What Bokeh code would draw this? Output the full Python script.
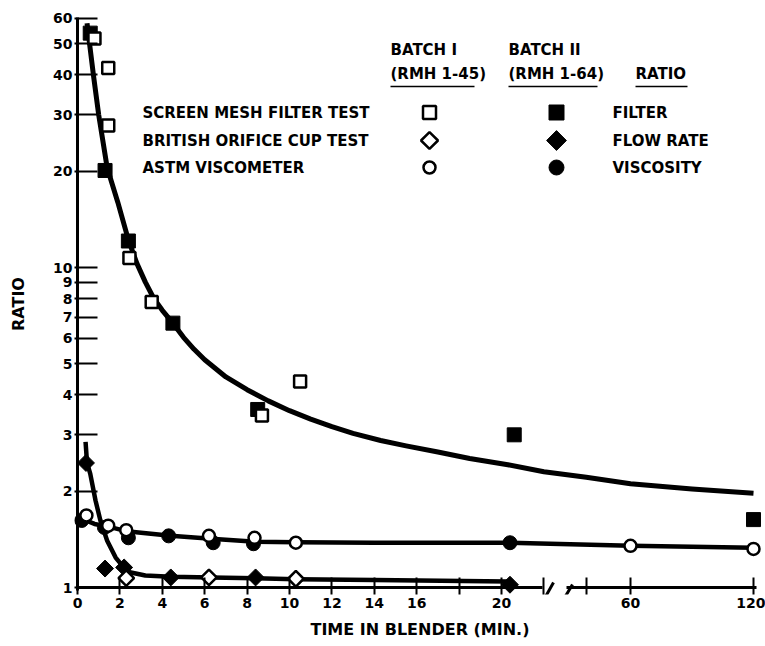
import math
from bokeh.plotting import figure
from bokeh.models import Range1d, FixedTicker, Label, Arrow
from bokeh.embed import file_html
from bokeh.resources import INLINE

# ---------------- data ----------------
# Screen mesh filter test (filter ratio)
filter_b1_t = [0.8, 1.45, 1.45, 2.45, 3.5, 8.7, 10.5]
filter_b1_v = [52, 42, 27.8, 10.7, 7.8, 3.45, 4.4]
filter_b2_t = [0.6, 1.3, 2.4, 4.5, 8.5, 20.6, 120]
filter_b2_v = [54, 20.1, 12.1, 6.7, 3.6, 3.0, 1.63]
filter_curve_t = [0.45, 0.75, 1.0, 1.4, 1.9, 2.4, 2.8, 3.2, 3.6, 4.0, 4.5,
                  5.0, 5.5, 6.0, 7.0, 8.0, 9.0, 10, 11, 12, 13, 14.3, 15.5,
                  17, 18.5, 20.3, 22, 24, 60, 90, 120]
filter_curve_v = [58, 40, 30, 20.5, 16.0, 12.2, 10.3, 9.0, 8.0, 7.35, 6.7,
                  6.05, 5.55, 5.15, 4.55, 4.15, 3.83, 3.57, 3.36, 3.18, 3.03,
                  2.88, 2.77, 2.65, 2.53, 2.42, 2.3, 2.21, 2.11, 2.03, 1.97]

# British orifice cup test (flow rate ratio)
flow_b1_t = [2.3, 6.2, 10.3]
flow_b1_v = [1.07, 1.075, 1.065]
flow_b2_t = [0.4, 1.3, 2.2, 4.4, 8.4, 20.4]
flow_b2_v = [2.45, 1.146, 1.155, 1.075, 1.075, 1.02]
flow_curve_t = [0.38, 0.45, 0.6, 0.85, 1.08, 1.4, 1.8, 2.35, 3.2, 4.4, 6.3,
                8.4, 10.3, 14, 20.3]
flow_curve_v = [2.85, 2.45, 2.27, 1.87, 1.62, 1.4, 1.24, 1.12, 1.09, 1.08,
                1.075, 1.068, 1.062, 1.055, 1.045]

# ASTM viscometer (viscosity ratio)
visc_b1_t = [0.42, 1.45, 2.3, 6.2, 8.35, 10.3, 60, 120]
visc_b1_v = [1.68, 1.56, 1.51, 1.45, 1.43, 1.38, 1.35, 1.32]
visc_b2_t = [0.2, 1.27, 2.4, 4.3, 6.4, 8.3, 20.4]
visc_b2_v = [1.62, 1.54, 1.43, 1.45, 1.38, 1.37, 1.38]
visc_curve_t = [0.2, 0.8, 1.45, 2.3, 4.4, 6.3, 8.4, 10.3, 14, 20.4, 60, 120]
visc_curve_v = [1.64, 1.58, 1.55, 1.5, 1.45, 1.42, 1.39, 1.385, 1.38, 1.38,
                1.35, 1.33]

x_tick_times = [0, 2, 4, 6, 8, 10, 12, 14, 16, 18, 20, 22, 24, 60, 120]
x_tick_labels = ["0", "2", "4", "6", "8", "10", "12", "14", "16", "", "20",
                 "", "", "60", "120"]
y_tick_values = [1, 2, 3, 4, 5, 6, 7, 8, 9, 10, 20, 30, 40, 50, 60]

row_names = ["SCREEN MESH FILTER TEST", "BRITISH ORIFICE CUP TEST",
             "ASTM VISCOMETER"]
ratio_names = ["FILTER", "FLOW RATE", "VISCOSITY"]

# ---------------- broken time axis ----------------
X0, PXU = 77.0, 21.2          # px of t=0, px per minute


def ux(px):
    return (px - X0) / PXU


def vy(py):
    return 10 ** ((587 - py) / 320.0)


U60, U120 = ux(630), ux(753)


def tmap(t):
    if t <= 24:
        return t
    if t < 60:
        return 24 + (t - 24) * (U60 - 24) / 36.0
    return U60 + (t - 60) * (U120 - U60) / 60.0


def tm(ts):
    return [tmap(t) for t in ts]


FONT = "DejaVu Sans"
W, H = 765, 646
FL, FT, FB = 74, 13, 594        # frame left / top / bottom px

p = figure(width=W, height=H, y_axis_type="log",
           x_range=Range1d(ux(FL), ux(W)),
           y_range=Range1d(vy(FB), vy(FT)),
           output_backend="svg", toolbar_location=None,
           min_border_left=FL, min_border_right=0,
           min_border_top=FT, min_border_bottom=H - FB)
p.grid.visible = False
p.outline_line_color = None
p.background_fill_color = "white"

# x axis
xa = p.xaxis[0]
xt = tm(x_tick_times)
xa.ticker = FixedTicker(ticks=xt)
xa.major_label_overrides = {v: s for v, s in zip(xt, x_tick_labels)}
xa.axis_line_alpha = 0
xa.major_tick_in = 17
xa.major_tick_out = 0
xa.major_tick_line_width = 2
xa.major_tick_line_color = "black"
xa.minor_tick_line_color = None
xa.major_label_standoff = 3
xa.major_label_text_font = FONT
xa.major_label_text_font_style = "bold"
xa.major_label_text_font_size = "14px"
xa.major_label_text_color = "black"
xa.axis_label = "TIME IN BLENDER (MIN.)"
xa.axis_label_standoff = 9
xa.axis_label_text_font = FONT
xa.axis_label_text_font_style = "bold"
xa.axis_label_text_font_size = "16px"
xa.axis_label_text_color = "black"

# y axis
ya = p.yaxis[0]
ya.ticker = FixedTicker(ticks=y_tick_values)
ya.major_label_overrides = {v: str(v) for v in y_tick_values}
ya.axis_line_alpha = 0
ya.major_tick_in = 23
ya.major_tick_out = 0
ya.major_tick_line_width = 2
ya.major_tick_line_color = "black"
ya.minor_tick_line_color = None
ya.major_label_standoff = 2
ya.major_label_text_font = FONT
ya.major_label_text_font_style = "bold"
ya.major_label_text_font_size = "14px"
ya.major_label_text_color = "black"
ya.axis_label = "RATIO"
ya.axis_label_standoff = 22
ya.axis_label_text_font = FONT
ya.axis_label_text_font_style = "bold"
ya.axis_label_text_font_size = "16px"
ya.axis_label_text_color = "black"

# drawn axis lines (bottom one with a break)
p.segment(x0=[0, 0, ux(566)], y0=[vy(590), 1, 1],
          x1=[0, ux(542), ux(756)], y1=[vy(17), 1, 1],
          line_width=3, line_color="black")
for (xs, ys, xe, ye) in [(544, 598, 553, 582), (560, 604, 572, 584)]:
    p.add_layout(Arrow(start=None, end=None, x_start=ux(xs), y_start=vy(ys),
                       x_end=ux(xe), y_end=vy(ye), line_width=3,
                       line_color="black"))

# curves
p.line(tm(filter_curve_t), filter_curve_v, line_width=5, line_color="black",
       line_join="round")
p.line(tm(flow_curve_t), flow_curve_v, line_width=4.5, line_color="black",
       line_join="round")
p.line(tm(visc_curve_t), visc_curve_v, line_width=4.5, line_color="black",
       line_join="round")

D = math.pi / 4
# batch II (filled)
p.scatter(tm(filter_b2_t), filter_b2_v, marker="square", size=14,
          fill_color="black", line_color="black")
p.scatter(tm(flow_b2_t), flow_b2_v, marker="square", angle=D, size=12,
          fill_color="black", line_color="black")
p.scatter(tm(visc_b2_t), visc_b2_v, marker="circle", size=14,
          fill_color="black", line_color="black")
# batch I (open)
p.scatter(tm(filter_b1_t), filter_b1_v, marker="square", size=12,
          fill_color="white", line_color="black", line_width=2.5)
p.scatter(tm(flow_b1_t), flow_b1_v, marker="square", angle=D, size=11,
          fill_color="white", line_color="black", line_width=2.5)
p.scatter(tm(visc_b1_t), visc_b1_v, marker="circle", size=12,
          fill_color="white", line_color="black", line_width=2.5)


def lab(px, py, text, size="15px"):
    p.add_layout(Label(x=ux(px), y=vy(py), text=text, text_font=FONT,
                       text_font_size=size, text_align="left",
                       text_baseline="middle", text_font_style="bold",
                       text_color="black"))


# legend table
lab(390, 49, "BATCH I")
lab(390, 73, "(RMH 1-45)")
lab(508, 49, "BATCH II")
lab(508, 73, "(RMH 1-64)")
lab(635, 73, "RATIO")
p.segment(x0=[ux(390), ux(508), ux(635)], y0=[vy(86)] * 3,
          x1=[ux(474), ux(597), ux(687)], y1=[vy(86)] * 3,
          line_width=1.5, line_color="black")
row_y = [112, 140, 167]
for name, rname, ry in zip(row_names, ratio_names, row_y):
    lab(142, ry, name)
    lab(612, ry, rname)
lx_open = [ux(429)] * 3
lx_fill = [ux(556)] * 3
ly = [vy(r) for r in row_y]
p.scatter(lx_open, ly, marker=["square", "square", "circle"],
          angle=[0, D, 0], size=[13, 12, 12], fill_color="white",
          line_color="black", line_width=2.5)
p.scatter(lx_fill, ly, marker=["square", "square", "circle"],
          angle=[0, D, 0], size=[15, 14, 15], fill_color="black",
          line_color="black")

open("out.html", "w").write(file_html(p, INLINE))
